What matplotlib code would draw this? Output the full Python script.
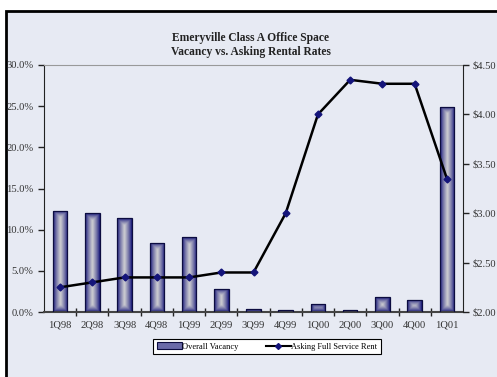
import numpy as np
import matplotlib.pyplot as plt
from matplotlib.patches import Rectangle, Patch
from matplotlib.lines import Line2D
from matplotlib.ticker import FuncFormatter
from matplotlib.colors import to_rgb

quarters = ["1Q98", "2Q98", "3Q98", "4Q98", "1Q99", "2Q99", "3Q99",
            "4Q99", "1Q00", "2Q00", "3Q00", "4Q00", "1Q01"]
vacancy = [12.3, 12.0, 11.4, 8.4, 9.1, 2.8, 0.35, 0.25, 1.0, 0.3, 1.8, 1.5, 24.9]
rent = [2.25, 2.30, 2.35, 2.35, 2.35, 2.40, 2.40, 3.00, 4.00, 4.35, 4.31, 4.31, 3.35]

title = "Emeryville Class A Office Space\nVacancy vs. Asking Rental Rates"
serif = "Liberation Serif"
navy = "#14147a"
light = "#cfcfd2"
bg = "#e7eaf3"

fig = plt.figure(figsize=(4.97, 3.77), dpi=100)
fig.patch.set_facecolor("white")

# outer frame, cut off at right and bottom like the source
frame = Rectangle((6 / 497, -0.1), 1.2, 1.1 - 11 / 377,
                  transform=fig.transFigure, facecolor=bg,
                  edgecolor="black", linewidth=2, zorder=-10)
fig.patches.append(frame)

ax = fig.add_axes([44 / 497, 1 - 312 / 377, 419 / 497, 247 / 377])
ax.patch.set_alpha(0)
x = np.arange(len(quarters))
bars = ax.bar(x, vacancy, width=0.45, facecolor="none", edgecolor="#0c0c40",
              linewidth=0.9, zorder=3)

# box gradient inside each bar: navy at the edges, light grey in the middle
px_per_unit = 247 / 30.0
c0 = np.array(to_rgb(navy))
c1 = np.array(to_rgb(light))
for b in bars:
    bw = b.get_width() * 419 / 13
    bh = b.get_height() * px_per_unit
    nx, ny = 40, max(4, int(bh * 2))
    xs = np.linspace(0, bw, nx)
    ys = np.linspace(0, bh, ny)
    X, Y = np.meshgrid(xs, ys)
    d = np.minimum(np.minimum(X, bw - X), np.minimum(Y, bh - Y))
    t = np.clip(d / (bw / 2), 0, 1) ** 0.8
    img = c0[None, None, :] * (1 - t[..., None]) + c1[None, None, :] * t[..., None]
    im = ax.imshow(img, extent=(b.get_x(), b.get_x() + b.get_width(), 0, b.get_height()),
                   origin="lower", aspect="auto", interpolation="bilinear", zorder=2)
    im.set_clip_path(b)

ax.set_xlim(-0.5, len(quarters) - 0.5)
ax.set_ylim(0, 30)
ax.set_yticks(np.arange(0, 31, 5))
ax.yaxis.set_major_formatter(FuncFormatter(lambda v, p: f"{v:.1f}%"))
ax.set_xticks(x)
ax.set_xticklabels(quarters)
ax.set_xticks(np.arange(0.5, len(quarters) - 1, 1), minor=True)
ax.tick_params(axis="x", which="major", length=0, pad=6)
ax.tick_params(axis="x", which="minor", length=6, direction="inout", width=1, color="#222222")
ax.tick_params(axis="y", length=4, direction="out", width=1, color="#222222")
for lab in ax.get_xticklabels() + ax.get_yticklabels():
    lab.set_fontfamily(serif)
    lab.set_fontsize(7.6)
    lab.set_color("#333333")
ax.spines["top"].set_color("#999999")
ax.spines["left"].set_color("#222222")
ax.spines["bottom"].set_color("#444444")
ax.spines["bottom"].set_linewidth(1.5)
ax.spines["right"].set_visible(False)

ax2 = ax.twinx()
ax2.set_ylim(2.0, 4.5)
ax2.set_yticks(np.arange(2.0, 4.51, 0.5))
ax2.yaxis.set_major_formatter(FuncFormatter(lambda v, p: f"${v:.2f}"))
ax2.plot(x, rent, color="black", linewidth=1.8, marker="D", markersize=3.5,
         markerfacecolor=navy, markeredgecolor=navy, zorder=5)
ax2.tick_params(axis="y", length=4, direction="out", width=1, color="#222222", pad=3)
for lab in ax2.get_yticklabels():
    lab.set_fontfamily(serif)
    lab.set_fontsize(7.6)
    lab.set_color("#333333")
for s in ["top", "left", "bottom"]:
    ax2.spines[s].set_visible(False)
ax2.spines["right"].set_color("#222222")

fig.text(251 / 497, 1 - 45 / 377, title, ha="center", va="center",
         fontfamily=serif, fontweight="bold", fontsize=8.3, color="#222222",
         linespacing=1.15)

handles = [Patch(facecolor="#6a6aa8", edgecolor="#0c0c40", linewidth=0.8),
           Line2D([], [], color="black", linewidth=1.5, marker="D", markersize=3,
                  markerfacecolor=navy, markeredgecolor=navy)]
leg = fig.legend(handles, ["Overall Vacancy", "Asking Full Service Rent"],
                 loc="center", bbox_to_anchor=(267 / 497, 1 - 346.5 / 377),
                 ncol=2, frameon=True, fancybox=False, edgecolor="black",
                 facecolor="white", framealpha=1, prop={"family": serif, "size": 6},
                 handlelength=3.0, handletextpad=0.1, columnspacing=3.2,
                 borderpad=0.45, handleheight=0.8)
leg.get_frame().set_linewidth(0.8)

fig.savefig("out.png", dpi=100)
